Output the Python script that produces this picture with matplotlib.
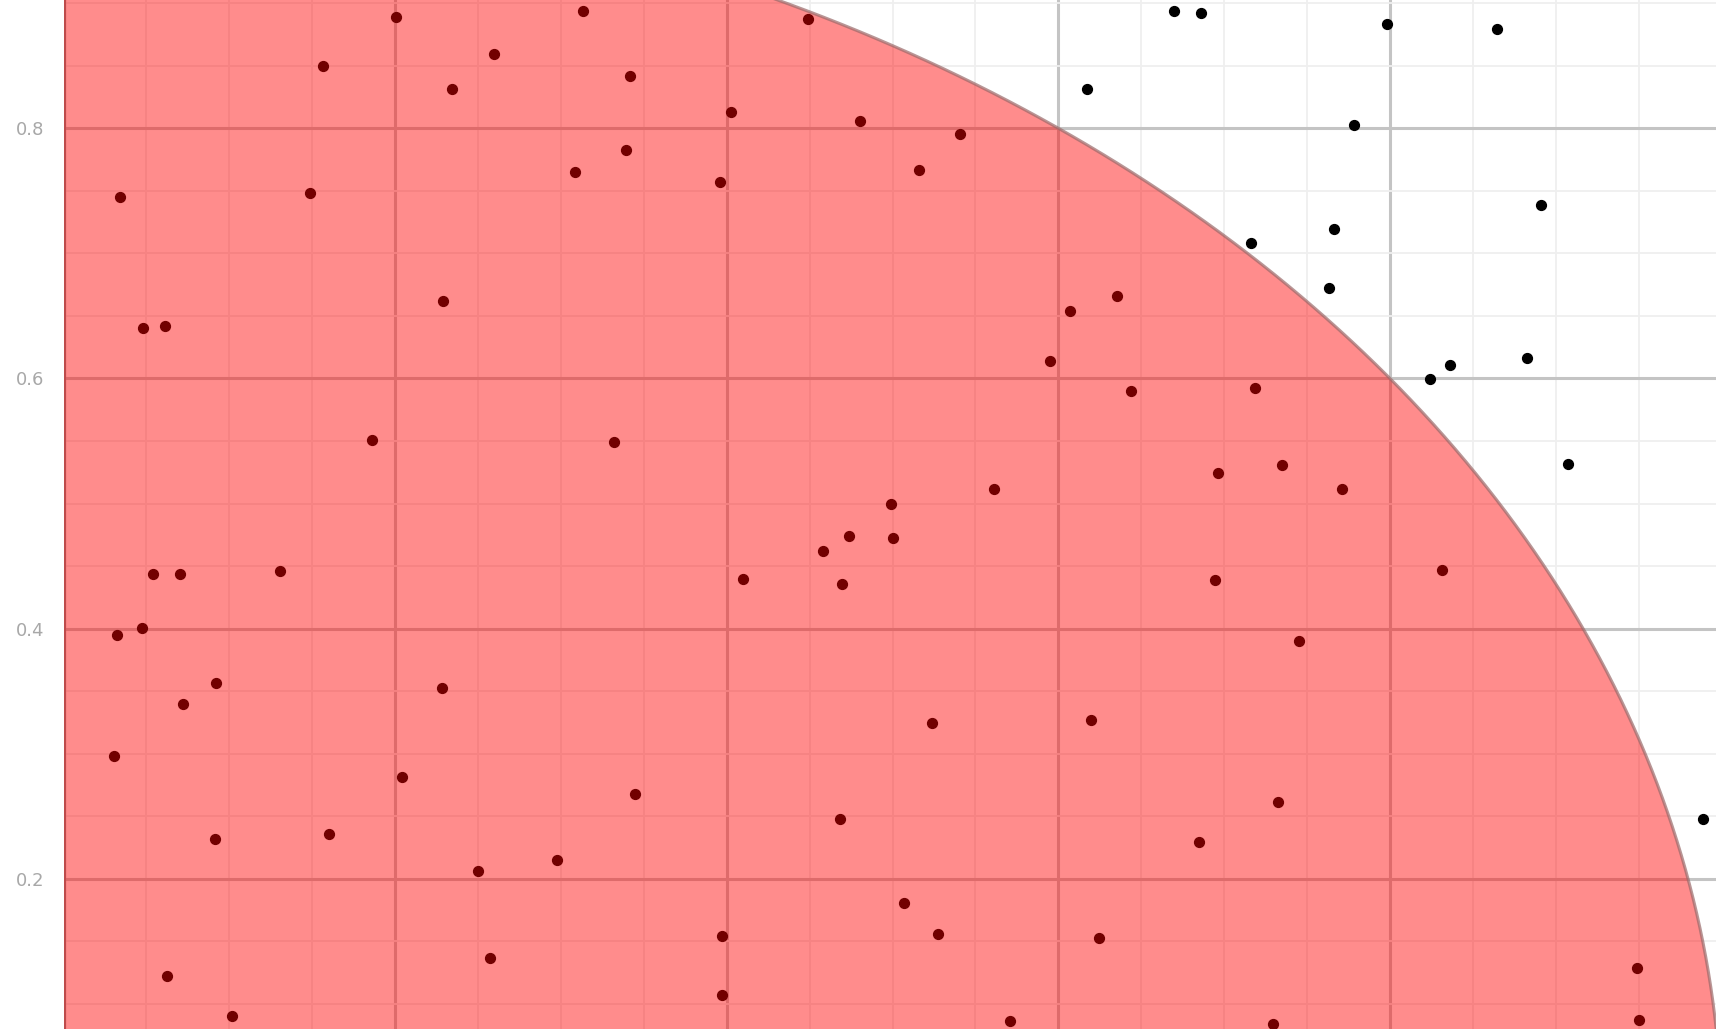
import numpy as np
import matplotlib
matplotlib.use("Agg")
import matplotlib.pyplot as plt
from matplotlib.patches import Wedge
from matplotlib.ticker import MultipleLocator

# Random points
x = [0.2007, 0.3135, 0.4488, 0.6700, 0.6858, 0.7980, 0.8647, 0.1564, 0.2594, 0.3419,
     0.2343, 0.6172, 0.4026, 0.4805, 0.5406, 0.7782, 0.3083, 0.3393, 0.3960, 0.5162,
     0.0343, 0.1485, 0.8911, 0.7162, 0.7663, 0.7630, 0.2290, 0.6356, 0.6073, 0.0482,
     0.0614, 0.5947, 0.8244, 0.8363, 0.8825, 0.7188, 0.6436, 0.1861, 0.3320, 0.9076,
     0.6964, 0.7347, 0.5610, 0.7710, 0.4990, 0.4739, 0.5003, 0.4581, 0.0541, 0.0700,
     0.1307, 0.4099, 0.4693, 0.6944, 0.8317, 0.0323, 0.0475, 0.7452, 0.0719, 0.0917,
     0.2284, 0.5241, 0.6198, 0.0304, 0.2040, 0.3446, 0.7327, 0.4686, 0.9888, 0.0911,
     0.1604, 0.6851, 0.2977, 0.2502, 0.5069, 0.3974, 0.5274, 0.6244, 0.0627, 0.2574,
     0.9492, 0.1017, 0.3974, 0.5710, 0.7294, 0.9505]
y = [0.8890, 0.8936, 0.8875, 0.8936, 0.8919, 0.8831, 0.8796, 0.8499, 0.8595, 0.8420,
     0.8315, 0.8315, 0.8131, 0.8061, 0.7956, 0.8026, 0.7650, 0.7825, 0.7571, 0.7668,
     0.7449, 0.7484, 0.7388, 0.7081, 0.7195, 0.6723, 0.6618, 0.6661, 0.6539, 0.6399,
     0.6416, 0.6136, 0.5997, 0.6110, 0.6163, 0.5927, 0.5900, 0.5507, 0.5489, 0.5314,
     0.5244, 0.5305, 0.5113, 0.5113, 0.4999, 0.4737, 0.4728, 0.4623, 0.4439, 0.4439,
     0.4457, 0.4395, 0.4360, 0.4387, 0.4465, 0.3949, 0.4002, 0.3897, 0.3398, 0.3564,
     0.3529, 0.3249, 0.3267, 0.2978, 0.2812, 0.2681, 0.2611, 0.2479, 0.2479, 0.2322,
     0.2357, 0.2296, 0.2147, 0.2059, 0.1806, 0.1543, 0.1561, 0.1526, 0.1220, 0.1368,
     0.1290, 0.0905, 0.1071, 0.0861, 0.0843, 0.0870]

yticks = [0.2, 0.4, 0.6, 0.8]
ytick_labels = ["0.2", "0.4", "0.6", "0.8"]

W, H = 1716, 1029
fig = plt.figure(figsize=(W / 100, H / 100), dpi=100)
# axes runs past the figure edges: only part of the unit square is visible
ax = fig.add_axes([63.5 / W, (H - 1129) / H, 1658 / W, 1251 / H])
ax.set_xlim(0, 1)
ax.set_ylim(0, 1)

ax.xaxis.set_major_locator(MultipleLocator(0.2))
ax.xaxis.set_minor_locator(MultipleLocator(0.05))
ax.yaxis.set_major_locator(MultipleLocator(0.2))
ax.yaxis.set_minor_locator(MultipleLocator(0.05))
ax.grid(which="major", color="#c4c4c4", linewidth=2.2, zorder=0)
ax.grid(which="minor", color="#efefef", linewidth=1.3, zorder=0)
ax.set_axisbelow(True)

ax.scatter(x, y, s=50, color="black", zorder=2)

# quarter circle drawn over the points
ax.add_patch(Wedge((0, 0), 1, 0, 90, facecolor="red", alpha=0.45,
                   edgecolor="none", zorder=3))
t = np.linspace(0, np.pi / 2, 400)
ax.plot(np.cos(t), np.sin(t), color="#9a6a6a", linewidth=2.2, alpha=0.7, zorder=4)
ax.axvline(0, color="#8a8a8a", linewidth=3, zorder=2.5)

ax.set_yticks(yticks)
ax.set_yticklabels(ytick_labels)
ax.tick_params(axis="both", which="both", length=0)
ax.tick_params(axis="y", labelsize=13, labelcolor="#a8a8a8", pad=14)
ax.tick_params(axis="x", labelbottom=False)
for s in ax.spines.values():
    s.set_visible(False)

fig.savefig("out.png", dpi=100)
